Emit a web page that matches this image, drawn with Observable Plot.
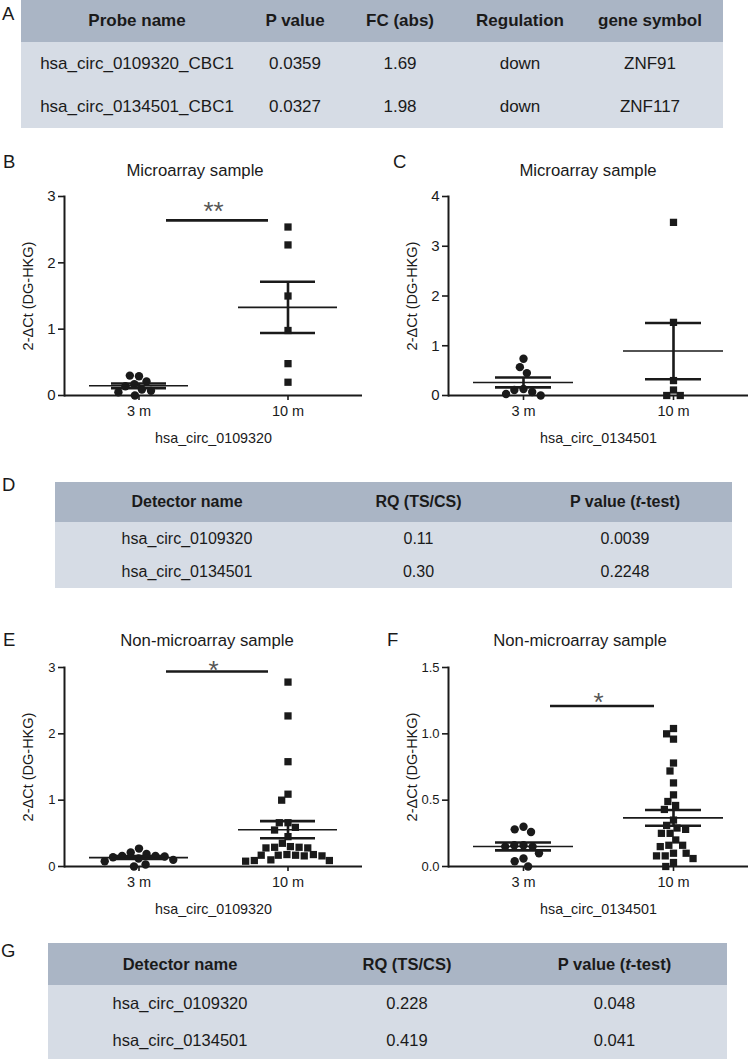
<!DOCTYPE html>
<html><head><meta charset="utf-8">
<script src="https://cdn.jsdelivr.net/npm/d3@7"></script>
<script src="https://cdn.jsdelivr.net/npm/@observablehq/plot@0.6"></script>
<style>
body{margin:0;background:#fff;font-family:"Liberation Sans",Arial,Helvetica,sans-serif;color:#1a1a1a}
#page{position:relative;width:750px;height:1060px;overflow:hidden}
.letter{position:absolute;font-size:18.5px;line-height:1}
.title{position:absolute;font-size:16.7px;line-height:1;transform:translate(-50%,-50%);white-space:nowrap}
table{position:absolute;border-collapse:collapse;table-layout:fixed}
th{background:#aab5c5;font-weight:bold;text-align:center;padding:0;white-space:nowrap}
td{background:#d6dce5;text-align:center;padding:0;white-space:nowrap}
svg{position:absolute}
svg [aria-label="y-axis tick label"], svg [aria-label="y-axis tick label"] text{font-size:15px !important}
svg.small [aria-label="y-axis tick label"], svg.small [aria-label="y-axis tick label"] text{font-size:13px !important}
svg [aria-label="y-axis label"], svg [aria-label="y-axis label"] text{font-size:14.5px !important}
svg [aria-label="fx-axis tick label"], svg [aria-label="fx-axis tick label"] text{font-size:14.5px !important}
svg [aria-label="fx-axis label"], svg [aria-label="fx-axis label"] text{font-size:14.3px !important}
</style></head><body><div id="page"></div>
<script>
// ---------- table data ----------
const tableAHeader = ["Probe name", "P value", "FC (abs)", "Regulation", "gene symbol"];
const tableARow1 = ["hsa_circ_0109320_CBC1", "0.0359", "1.69", "down", "ZNF91"];
const tableARow2 = ["hsa_circ_0134501_CBC1", "0.0327", "1.98", "down", "ZNF117"];
const tableDHeader = ["Detector name", "RQ (TS/CS)", "P value (t-test)"];
const tableDRow1 = ["hsa_circ_0109320", "0.11", "0.0039"];
const tableDRow2 = ["hsa_circ_0134501", "0.30", "0.2248"];
const tableGHeader = ["Detector name", "RQ (TS/CS)", "P value (t-test)"];
const tableGRow1 = ["hsa_circ_0109320", "0.228", "0.048"];
const tableGRow2 = ["hsa_circ_0134501", "0.419", "0.041"];

// ---------- chart data ----------
const groups = ["3 m", "10 m"];
const yLabel = "2-ΔCt (DG-HKG)";
const B_3m  = [0.29, 0.30, 0.21, 0.17, 0.14, 0.09, 0.07, 0.05, 0.0];
const B_10m = [2.54, 2.27, 1.50, 0.98, 0.48, 0.20];
const C_3m  = [0.74, 0.57, 0.45, 0.13, 0.11, 0.07, 0.03, 0.0];
const C_10m = [3.48, 1.47, 0.30, 0.11, 0.0, 0.0];
const E_3m  = [0.27, 0.21, 0.19, 0.16, 0.16, 0.15, 0.14, 0.12, 0.10, 0.08, 0.03, 0.0];
const E_10m = [2.78, 2.27, 1.58, 1.09, 1.00, 0.66, 0.66, 0.59, 0.55, 0.45, 0.35, 0.30, 0.29, 0.29,
               0.28, 0.28, 0.18, 0.18, 0.17, 0.17, 0.17, 0.16, 0.16, 0.10, 0.09, 0.09, 0.08];
const F_3m  = [0.30, 0.28, 0.26, 0.16, 0.16, 0.15, 0.15, 0.10, 0.06, 0.04, 0.0];
const F_10m = [1.04, 1.00, 0.96, 0.78, 0.72, 0.63, 0.54, 0.49, 0.46, 0.43, 0.35, 0.31, 0.29, 0.28,
               0.25, 0.25, 0.20, 0.16, 0.16, 0.15, 0.10, 0.10, 0.08, 0.08, 0.06, 0.03, 0.0];
const B_ticks = [0, 1, 2, 3];
const C_ticks = [0, 1, 2, 3, 4];
const E_ticks = [0, 1, 2, 3];
const F_ticks = [0, 0.5, 1.0, 1.5];
const sigB = {y: 2.64, label: "**"};
const sigE = {y: 2.94, label: "*"};
const sigF = {y: 1.21, label: "*"};

const ink = "#1a1a1a";
const page = document.getElementById("page");

function addDiv(cls, text, style) {
  const d = document.createElement("div");
  d.className = cls; d.textContent = text;
  Object.assign(d.style, style);
  page.appendChild(d);
}
function cellHTML(s) {
  return s.replace("(t-test)", "(<i>t</i>-test)");
}
function addTable(header, rows, {left, top, widths, headH, rowH, fontSize}) {
  const t = document.createElement("table");
  Object.assign(t.style, {left: left + "px", top: top + "px", width: d3.sum(widths) + "px", fontSize: fontSize + "px"});
  const cg = document.createElement("colgroup");
  widths.forEach(w => { const c = document.createElement("col"); c.style.width = w + "px"; cg.appendChild(c); });
  t.appendChild(cg);
  const hr = document.createElement("tr");
  hr.style.height = headH + "px";
  header.forEach(h => { const th = document.createElement("th"); th.innerHTML = cellHTML(h); hr.appendChild(th); });
  t.appendChild(hr);
  rows.forEach(r => {
    const tr = document.createElement("tr");
    tr.style.height = rowH + "px";
    r.forEach(v => { const td = document.createElement("td"); td.textContent = v; tr.appendChild(td); });
    t.appendChild(tr);
  });
  page.appendChild(t);
}

function panel({left, top, width, marginRight, yDomain, yTicks, yFormat, small, g3, g10, sig, sigDy, xLabel}) {
  const rows3 = g3.map(v => ({g: groups[0], v}));
  const rows10 = g10.map(v => ({g: groups[1], v}));
  const stats = [[groups[0], g3], [groups[1], g10]].map(([g, vals]) => {
    const m = d3.mean(vals), se = d3.deviation(vals) / Math.sqrt(vals.length);
    return {g, mean: m, lo: m - se, hi: m + se};
  });
  const semEnds = stats.flatMap(s => [{g: s.g, y: s.lo}, {g: s.g, y: s.hi}]);
  const marks = [
    Plot.ruleY([0], {stroke: ink, strokeWidth: 2}),
    Plot.frame({anchor: "left", facetAnchor: "left", stroke: ink, strokeWidth: 2}),
    Plot.axisY({ticks: yTicks, tickFormat: yFormat, tickSize: 6, tickPadding: 3, fontSize: small ? 13 : 15,
      label: yLabel, labelAnchor: "center", labelOffset: 42, labelArrow: "none", strokeWidth: 1.6}),
    Plot.axisFx({anchor: "bottom", tickSize: 5, tickPadding: 5, fontSize: 14.5,
      label: xLabel, labelAnchor: "center", labelOffset: 47, labelArrow: "none", strokeWidth: 1.6}),
    Plot.dot(rows3, Plot.dodgeX({anchor: "middle", padding: 0.8}, {fx: "g", y: "v", r: 4.2, fill: ink, symbol: "circle"})),
    Plot.dot(rows10, Plot.dodgeX({anchor: "middle", padding: 0.5}, {fx: "g", y: "v", r: 4.1, fill: ink, symbol: "square"})),
    Plot.tickY(stats, {fx: "g", y: "mean", insetLeft: 25, insetRight: 25, stroke: ink, strokeWidth: 1.6}),
    Plot.tickY(semEnds, {fx: "g", y: "y", insetLeft: 47, insetRight: 47, stroke: ink, strokeWidth: 2.6}),
    Plot.ruleX(stats, {fx: "g", x: null, y1: "lo", y2: "hi", stroke: ink, strokeWidth: 2.6})
  ];
  if (sig) {
    marks.push(
      Plot.tickY([{g: groups[0], y: sig.y}], {fx: "g", y: "y", insetLeft: 102, stroke: ink, strokeWidth: 2.6}),
      Plot.tickY([{g: groups[1], y: sig.y}], {fx: "g", y: "y", insetRight: 94, stroke: ink, strokeWidth: 2.6}),
      Plot.text([{g: groups[0], y: sig.y, t: sig.label}], {fx: "g", y: "y", text: "t", frameAnchor: "right",
        textAnchor: "middle", dy: sigDy, fontSize: 26, fill: "#555"})
    );
  }
  const svg = Plot.plot({
    width, height: 265, marginLeft: 63, marginRight, marginTop: 16, marginBottom: 50,
    y: {domain: yDomain},
    fx: {domain: groups, padding: 0},
    style: {fontFamily: '"Liberation Sans", Arial, sans-serif', fontSize: "14.5px", color: ink, background: "transparent", overflow: "visible"},
    marks
  });
  if (small) svg.classList.add("small");
  svg.style.left = left + "px";
  svg.style.top = top + "px";
  page.appendChild(svg);
}

// ---------- tables ----------
addTable(tableAHeader, [tableARow1, tableARow2], {left: 21, top: 0, widths: [232, 84, 126, 114, 146], headH: 42, rowH: 43, fontSize: 17});
addTable(tableDHeader, [tableDRow1, tableDRow2], {left: 55, top: 482, widths: [264, 199, 214], headH: 40, rowH: 33, fontSize: 16});
addTable(tableGHeader, [tableGRow1, tableGRow2], {left: 48, top: 943, widths: [264, 190, 225], headH: 42, rowH: 37, fontSize: 16.5});

// ---------- panels ----------
panel({left: 0, top: 180, width: 375, marginRight: 13, yDomain: [0, 3], yTicks: B_ticks, yFormat: "d", small: false,
  g3: B_3m, g10: B_10m, sig: sigB, sigDy: -8.5, xLabel: "hsa_circ_0109320"});
panel({left: 385, top: 180, width: 365, marginRight: 2, yDomain: [0, 4], yTicks: C_ticks, yFormat: "d", small: false,
  g3: C_3m, g10: C_10m, sig: null, sigDy: 0, xLabel: "hsa_circ_0134501"});
panel({left: 0, top: 651, width: 375, marginRight: 13, yDomain: [0, 3], yTicks: E_ticks, yFormat: "d", small: true,
  g3: E_3m, g10: E_10m, sig: sigE, sigDy: -0.5, xLabel: "hsa_circ_0109320"});
panel({left: 385, top: 651, width: 365, marginRight: 2, yDomain: [0, 1.5], yTicks: F_ticks, yFormat: ".1f", small: true,
  g3: F_3m, g10: F_10m, sig: sigF, sigDy: -3.5, xLabel: "hsa_circ_0134501"});

// ---------- titles & panel letters ----------
addDiv("title", "Microarray sample", {left: "195px", top: "171px"});
addDiv("title", "Microarray sample", {left: "588px", top: "171px"});
addDiv("title", "Non-microarray sample", {left: "207px", top: "641px"});
addDiv("title", "Non-microarray sample", {left: "580px", top: "641px"});
[["A", 2, 5], ["B", 3, 153], ["C", 393, 153], ["D", 2, 476], ["E", 3, 631], ["F", 387, 631], ["G", 1, 942]]
  .forEach(([t, x, y]) => addDiv("letter", t, {left: x + "px", top: y + "px"}));
</script>
</body></html>
